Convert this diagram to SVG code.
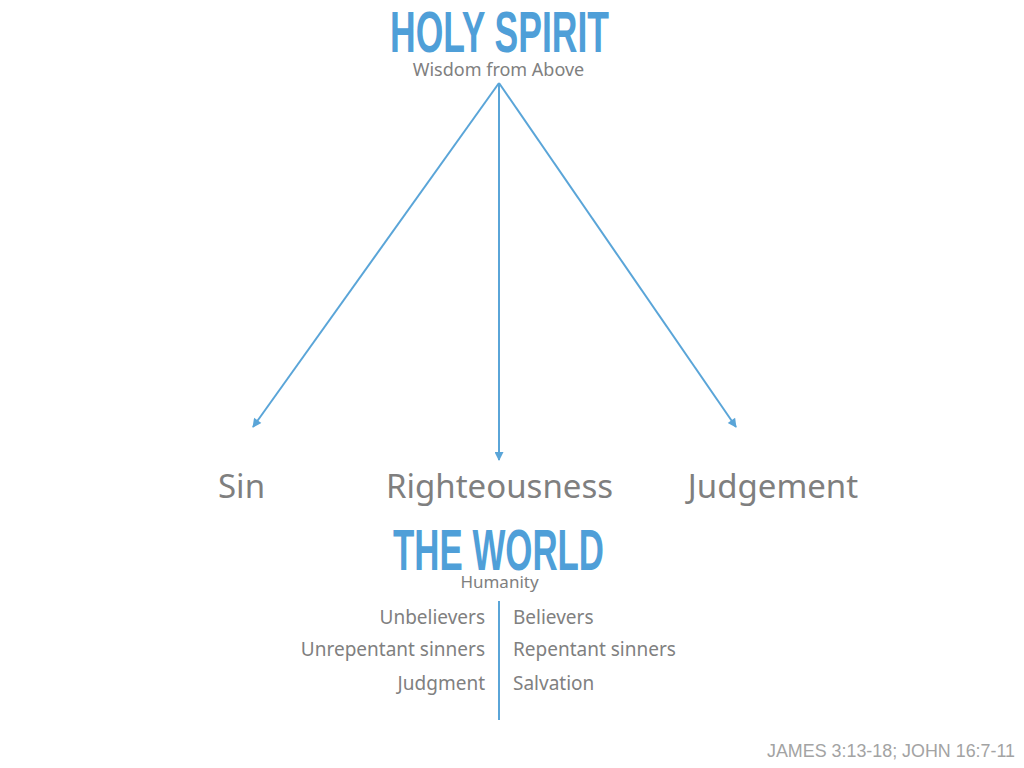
<svg xmlns="http://www.w3.org/2000/svg" width="1024" height="768" viewBox="0 0 1024 768">
<style>
.title{font-family:"Liberation Sans",Arial,sans-serif;font-weight:bold;fill:#4f9fd8}
.sub{font-family:"Noto Sans","Open Sans",sans-serif;fill:#808080}
.lbl{font-family:"Noto Sans","Open Sans",sans-serif;fill:#7f7f7f;font-size:33px}
.item{font-family:"Noto Sans","Open Sans",sans-serif;fill:#808080;font-size:19px}
.conn{stroke:#5aa5d8;stroke-width:2;fill:none}
</style>
<defs>
<marker id="ah" viewBox="0 0 10 10" refX="9" refY="5" markerWidth="11" markerHeight="9" orient="auto" markerUnits="userSpaceOnUse">
<path d="M0,0 L10,5 L0,10 z" fill="#5aa5d8"/>
</marker>
</defs>
<rect width="1024" height="768" fill="#ffffff"/>
<g id="holy-spirit">
<text class="title" x="499.5" y="52" font-size="57" text-anchor="middle" textLength="219" lengthAdjust="spacingAndGlyphs">HOLY SPIRIT</text>
<text class="sub" x="498.5" y="76" font-size="18" text-anchor="middle">Wisdom from Above</text>
</g>
<g id="connectors">
<line class="conn" x1="499" y1="83" x2="253" y2="427" marker-end="url(#ah)"/>
<line class="conn" x1="499" y1="83" x2="499" y2="460" marker-end="url(#ah)"/>
<line class="conn" x1="499" y1="83" x2="736" y2="427" marker-end="url(#ah)"/>
<line class="conn" x1="499" y1="601" x2="499" y2="720"/>
</g>
<g id="sin"><text class="lbl" x="218" y="498">Sin</text></g>
<g id="righteousness"><text class="lbl" x="499.5" y="498" text-anchor="middle">Righteousness</text></g>
<g id="judgement"><text class="lbl" x="773" y="498" text-anchor="middle">Judgement</text></g>
<g id="the-world">
<text class="title" x="498.5" y="570" font-size="57" text-anchor="middle" textLength="211" lengthAdjust="spacingAndGlyphs">THE WORLD</text>
<text class="sub" x="499.5" y="588" font-size="17" text-anchor="middle">Humanity</text>
</g>
<g id="unbelievers-column">
<text class="item" x="485" y="624" text-anchor="end">Unbelievers</text>
<text class="item" x="485" y="656" text-anchor="end">Unrepentant sinners</text>
<text class="item" x="485" y="690" text-anchor="end">Judgment</text>
</g>
<g id="believers-column">
<text class="item" x="513" y="624">Believers</text>
<text class="item" x="513" y="656">Repentant sinners</text>
<text class="item" x="513" y="690">Salvation</text>
</g>
<g id="reference">
<text x="1015" y="757" font-family="Liberation Sans,Arial,sans-serif" font-size="18" fill="#a3a3a3" text-anchor="end" textLength="248" lengthAdjust="spacingAndGlyphs">JAMES 3:13-18; JOHN 16:7-11</text>
</g>
</svg>
